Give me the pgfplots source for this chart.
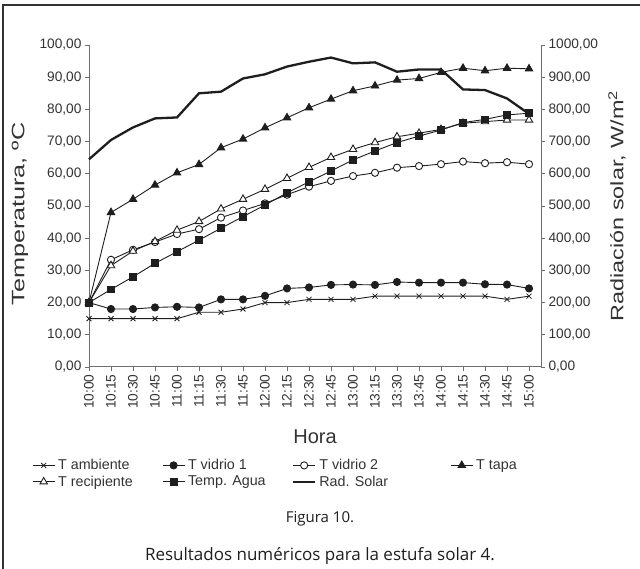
\documentclass[border=0pt]{standalone}
\usepackage{pgfplots}
\pgfplotsset{compat=1.18}
\usepackage{fontspec}
\setmainfont{Liberation Sans}
\newfontfamily\capfont{Open Sans}
\definecolor{axisgray}{HTML}{6E6E6E}
\definecolor{ink}{HTML}{1E1E1E}
\definecolor{txt}{HTML}{333333}

\pgfplotsset{
  base/.style={
    scale only axis, width=452bp, height=322bp,
    at={(89bp,202bp)}, anchor=south west,
    xmin=0, xmax=20.545, clip=false,
    tick align=outside, major tick length=4bp,
    tick style={axisgray, line width=0.8bp},
    axis line style={axisgray, line width=1bp},
    font=\fontsize{13.7bp}{16bp}\selectfont\color{txt},
    /pgf/number format/assume math mode=true,
    yticklabel style={/pgf/number format/.cd, fixed, fixed zerofill, precision=2, use comma, 1000 sep={}},
  },
  ser/.style={ink, line width=0.9bp, mark options={solid, line width=0.8bp}},
}

\begin{document}
\begin{tikzpicture}
\path[use as bounding box] (0,0) rectangle (640bp,569bp);
\draw[txt, line width=1.3bp] (3bp,0) -- (3bp,564bp) -- (640bp,564bp);

\begin{axis}[base,
  ymin=0, ymax=100, ytick={0,10,...,100},
  axis x line*=bottom, axis y line*=left,
  xtick={0,...,20},
  xticklabels={10:00,10:15,10:30,10:45,11:00,11:15,11:30,11:45,12:00,12:15,12:30,12:45,13:00,13:15,13:30,13:45,14:00,14:15,14:30,14:45,15:00},
  xticklabel style={rotate=90, anchor=east},
  legend columns=4,
  legend image code/.code={\draw[mark repeat=2,mark phase=2] plot coordinates {(0bp,0bp) (11bp,0bp) (22bp,0bp)};},
  legend style={draw=none, fill=none, at={(axis description cs:-0.126,-0.285)}, anchor=north west,
    column sep=0pt, row sep=3.5bp, inner sep=0pt,
    nodes={inner xsep=3bp, inner ysep=0.5bp, anchor=west},
    font=\fontsize{14.3bp}{16bp}\selectfont\color{txt}},
]
\addplot[ser, mark=x, mark size=3.5bp] coordinates {
(0,15) (1,15) (2,15) (3,15) (4,15) (5,17) (6,17) (7,18) (8,20) (9,20) (10,21)
(11,21) (12,21) (13,22) (14,22) (15,22) (16,22) (17,22) (18,22) (19,21) (20,22)};
\addlegendentry{\makebox[101bp][l]{T ambiente}}
\addplot[ser, mark=*, mark size=3.6bp, mark options={fill=ink}] coordinates {
(0,20) (1,18) (2,18) (3,18.5) (4,18.7) (5,18.5) (6,21) (7,21) (8,22.1) (9,24.4) (10,24.7)
(11,25.5) (12,25.6) (13,25.5) (14,26.4) (15,26.2) (16,26.2) (17,26.2) (18,25.7) (19,25.6) (20,24.4)};
\addlegendentry{\makebox[101bp][l]{T vidrio 1}}
\addplot[ser, mark=*, mark size=3.6bp, mark options={fill=white}] coordinates {
(0,20) (1,33.3) (2,36.4) (3,38.8) (4,41.3) (5,42.8) (6,46.4) (7,48.6) (8,50.8) (9,53.5) (10,56)
(11,57.8) (12,59.3) (13,60.3) (14,61.9) (15,62.4) (16,63) (17,63.8) (18,63.3) (19,63.6) (20,63)};
\addlegendentry{\makebox[128bp][l]{T vidrio 2}}
\addplot[ser, mark=triangle*, mark size=4.3bp, mark options={fill=ink}] coordinates {
(0,20) (1,48) (2,52.1) (3,56.5) (4,60.3) (5,62.9) (6,68.1) (7,70.8) (8,74.3) (9,77.4) (10,80.5)
(11,83.2) (12,85.8) (13,87.3) (14,89.1) (15,89.6) (16,91.5) (17,92.8) (18,92) (19,92.8) (20,92.6)};
\addlegendentry{T tapa}
\addplot[ser, mark=triangle*, mark size=4.3bp, mark options={fill=white}] coordinates {
(0,20) (1,31.5) (2,36) (3,39) (4,42.5) (5,45.2) (6,49.1) (7,52.1) (8,55.2) (9,58.6) (10,62)
(11,65.1) (12,67.6) (13,69.7) (14,71.5) (15,72.6) (16,73.8) (17,75.7) (18,76.2) (19,76.7) (20,76.7)};
\addlegendentry{\makebox[101bp][l]{T recipiente}}
\addplot[ser, mark=square*, mark size=3.4bp, mark options={fill=ink}] coordinates {
(0,20) (1,24.1) (2,28) (3,32.2) (4,35.8) (5,39.4) (6,43.1) (7,46.7) (8,50.3) (9,54.1) (10,57.5)
(11,60.9) (12,64.3) (13,67.1) (14,69.7) (15,71.7) (16,73.6) (17,75.9) (18,76.9) (19,78.3) (20,78.8)};
\addlegendentry{\makebox[101bp][l]{Temp. Agua}}
\addlegendimage{ink, line width=2.3bp, no markers}
\addlegendentry{\makebox[128bp][l]{Rad. Solar}}
\node[rotate=90, xscale=1.4, font=\fontsize{18bp}{20bp}\selectfont\color{txt}] at (axis description cs:-0.1527,0.475) {Temperatura, ºC};
\node[font=\fontsize{20bp}{22bp}\selectfont\color{txt}] at (axis description cs:0.5,-0.2174) {Hora};
\end{axis}

\begin{axis}[base,
  ymin=0, ymax=1000, ytick={0,100,...,1000},
  axis x line=none, axis y line*=right,
]
\addplot[ink, line width=2.3bp] coordinates {
(0,645) (1,705) (2,744) (3,772) (4,775) (5,850) (6,855) (7,896) (8,909) (9,933) (10,948)
(11,961) (12,943) (13,946) (14,917) (15,924) (16,924) (17,862) (18,860) (19,834) (20,786)};
\node[rotate=90, xscale=1.3, font=\fontsize{18bp}{20bp}\selectfont\color{txt}] at (axis description cs:1.168,0.5) {Radiación solar, W/m\textsuperscript{2}};
\end{axis}

\node[font=\capfont\fontsize{15bp}{18bp}\selectfont, text=ink] at (320bp,50bp) {Figura 10.};
\node[font=\capfont\fontsize{17bp}{19bp}\selectfont, text=ink] at (320bp,13bp) {Resultados numéricos para la estufa solar 4.};
\end{tikzpicture}
\end{document}
